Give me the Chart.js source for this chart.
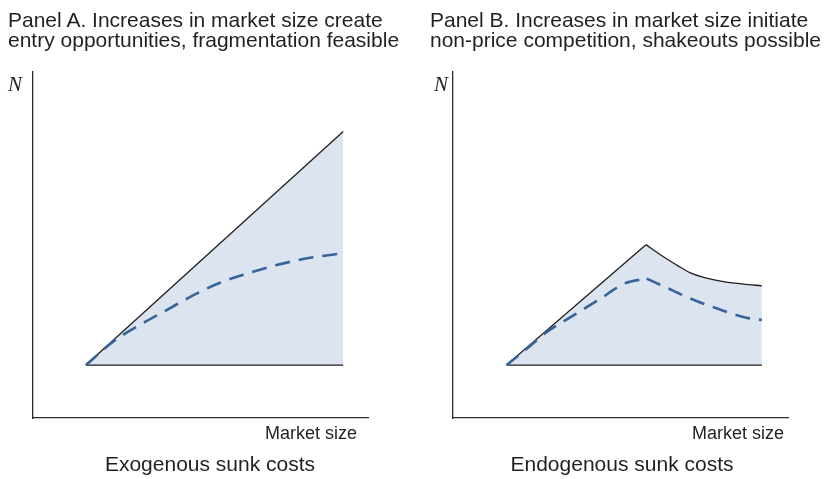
<!DOCTYPE html>
<html>
<head>
<meta charset="utf-8">
<script src="https://cdn.jsdelivr.net/npm/chart.js@4/dist/chart.umd.min.js"></script>
<style>
  html, body { margin: 0; padding: 0; background: #ffffff; }
  #wrap { position: relative; width: 826px; height: 479px; overflow: hidden; font-family: "Liberation Sans", Arial, Helvetica, sans-serif; color: #231f20; }
  canvas { position: absolute; top: 0; }
  .title { position: absolute; top: 10px; font-size: 21px; line-height: 20px; white-space: nowrap; }
  .caption { position: absolute; top: 452px; font-size: 21px; line-height: 24px; white-space: nowrap; transform: translateX(-50%); }
  .xlab { position: absolute; top: 423px; font-size: 18px; line-height: 20px; white-space: nowrap; transform: translateX(-100%); }
  .ylab { position: absolute; top: 72px; font-family: "Liberation Serif", "DejaVu Serif", serif; font-style: italic; font-size: 21px; line-height: 24px; }
</style>
</head>
<body>
<div id="wrap">
  <canvas id="panelA" width="413" height="479" style="left:0"></canvas>
  <canvas id="panelB" width="413" height="479" style="left:413px"></canvas>

  <div class="title" style="left:8px">Panel A. Increases in market size create<br>entry opportunities, fragmentation feasible</div>
  <div class="title" style="left:430px">Panel B. Increases in market size initiate<br>non-price competition, shakeouts possible</div>

  <div class="ylab" style="left:8px">N</div>
  <div class="ylab" style="left:434px">N</div>

  <div class="xlab" style="left:357px">Market size</div>
  <div class="xlab" style="left:784px">Market size</div>

  <div class="caption" style="left:210px">Exogenous sunk costs</div>
  <div class="caption" style="left:622px">Endogenous sunk costs</div>
</div>

<script>
// ---- Panel A: exogenous sunk costs ----
// upper bound on the number of firms (straight line) and its floor
const boundSizeA = [1.58, 9.26];
const boundA     = [1.53, 8.28];
const floorSizeA = [1.58, 9.26];
const floorA     = [1.53, 1.53];
// equilibrium number of firms (dashed)
const eqSizeA = [1.58, 2.40, 3.19, 3.99, 4.79, 5.58, 6.48, 7.27, 8.27, 9.26];
const eqA     = [1.53, 2.21, 2.69, 3.12, 3.55, 3.91, 4.20, 4.42, 4.63, 4.76];

// ---- Panel B: endogenous sunk costs ----
// bound rises to a peak, then falls off (shakeout)
const boundSizeB = [1.60, 5.76, 6.28, 6.68, 7.07, 7.57, 8.07, 8.67, 9.22];
const boundB     = [1.53, 5.01, 4.66, 4.42, 4.20, 4.04, 3.94, 3.87, 3.82];
const boundPeakB = 1;
const floorSizeB = [1.60, 9.22];
const floorB     = [1.53, 1.53];
// equilibrium number of firms (dashed)
const eqSizeB = [1.60, 2.30, 2.75, 3.57, 4.34, 5.13, 5.78, 6.28, 7.07, 8.07, 8.76, 9.22];
const eqB     = [1.53, 2.08, 2.45, 2.95, 3.41, 3.89, 4.03, 3.81, 3.46, 3.10, 2.90, 2.83];
const eqPeakB = 6;

const SHADE = '#dce4ef';
const BOUND = '#1f1f1f';
const EQ    = '#36649a';

function pts(xs, ys) { return xs.map((x, i) => ({ x: x, y: ys[i] })); }

function solid(data, extra) {
  return Object.assign({
    data: data, borderColor: BOUND, borderWidth: 1.3, pointRadius: 0,
    tension: 0, fill: false
  }, extra || {});
}
function dashed(data, extra) {
  return Object.assign({
    data: data, borderColor: EQ, borderWidth: 2.6, borderDash: [15, 9],
    pointRadius: 0, cubicInterpolationMode: 'monotone', fill: false
  }, extra || {});
}

function axis() {
  return {
    type: 'linear', min: 0, max: 10,
    grid: { display: false, drawTicks: false, tickLength: 0 },
    ticks: { display: false, padding: 0 },
    border: { display: true, color: '#2b2b2b', width: 1.3 }
  };
}

function panelOptions(pad) {
  return {
    responsive: false,
    devicePixelRatio: 1,
    animation: false,
    layout: { padding: pad },
    plugins: {
      legend: { display: false },
      tooltip: { enabled: false },
      filler: { drawTime: 'beforeDatasetsDraw' }
    },
    scales: { x: axis(), y: axis() }
  };
}

new Chart(document.getElementById('panelA'), {
  type: 'line',
  data: {
    datasets: [
      dashed(pts(eqSizeA, eqA)),
      solid(pts(boundSizeA, boundA), { fill: { value: floorA[0] }, backgroundColor: SHADE }),
      solid(pts(floorSizeA, floorA))
    ]
  },
  options: panelOptions({ left: 33, top: 72, right: 45, bottom: 61 })
});

new Chart(document.getElementById('panelB'), {
  type: 'line',
  data: {
    datasets: [
      dashed(pts(eqSizeB.slice(0, eqPeakB + 1), eqB.slice(0, eqPeakB + 1))),
      dashed(pts(eqSizeB.slice(eqPeakB), eqB.slice(eqPeakB))),
      solid(pts(boundSizeB.slice(0, boundPeakB + 1), boundB.slice(0, boundPeakB + 1)),
            { fill: { value: floorB[0] }, backgroundColor: SHADE }),
      solid(pts(boundSizeB.slice(boundPeakB), boundB.slice(boundPeakB)),
            { fill: { value: floorB[0] }, backgroundColor: SHADE, cubicInterpolationMode: 'monotone' }),
      solid(pts(floorSizeB, floorB))
    ]
  },
  options: panelOptions({ left: 40, top: 72, right: 38, bottom: 61 })
});
</script>
</body>
</html>
